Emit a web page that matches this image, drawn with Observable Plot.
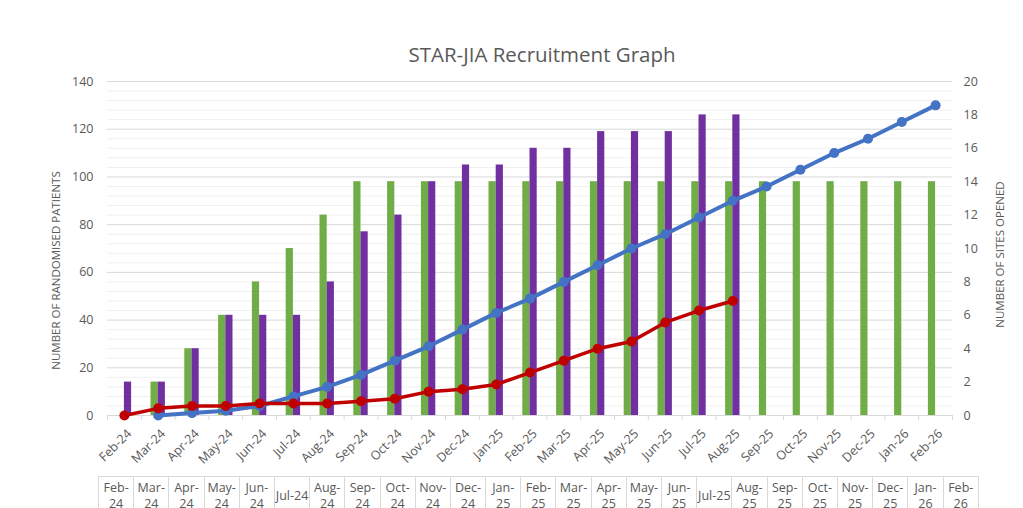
<!DOCTYPE html>
<html><head><meta charset="utf-8">
<script src="https://cdn.jsdelivr.net/npm/d3@7"></script>
<script src="https://cdn.jsdelivr.net/npm/@observablehq/plot@0.6"></script>
<style>
body{margin:0;background:#fff;font-family:"Open Sans",sans-serif;}
#wrap{position:relative;width:1023px;height:508px;overflow:hidden;background:#fff;}
#title{position:absolute;left:342px;width:400px;top:40px;text-align:center;font-size:20.5px;color:#595959;line-height:28px;}
#chart{position:absolute;left:0;top:0;}
#tbl{position:absolute;left:98px;top:476px;border-collapse:collapse;table-layout:fixed;width:881px;}
#tbl td{border:1px solid #d9d9d9;text-align:center;vertical-align:middle;font-size:12.5px;line-height:16px;color:#595959;padding:2px 0 0 0;height:34px;overflow:hidden;white-space:nowrap;}
</style>
</head><body>
<div id="wrap">
  <div id="title">STAR-JIA Recruitment Graph</div>
  <div id="chart"></div>
  <table id="tbl"><tr id="tblrow"></tr></table>
</div>
<script>
const months = ["Feb-24","Mar-24","Apr-24","May-24","Jun-24","Jul-24","Aug-24","Sep-24","Oct-24","Nov-24","Dec-24","Jan-25","Feb-25","Mar-25","Apr-25","May-25","Jun-25","Jul-25","Aug-25","Sep-25","Oct-25","Nov-25","Dec-25","Jan-26","Feb-26"];
// sites (right axis)
const sitesPlanned = [0,2,4,6,8,10,12,14,14,14,14,14,14,14,14,14,14,14,14,14,14,14,14,14,14];
const sitesOpened  = [2,2,4,6,6,6,8,11,12,14,15,15,16,16,17,17,17,18,18,null,null,null,null,null,null];
// patients (left axis)
const targetRecruitment = [null,0,1,2,4,8,12,17,23,29,36,43,49,56,63,70,76,83,90,96,103,110,116,123,130];
const actualRecruitment = [0,3,4,4,5,5,5,6,7,10,11,13,18,23,28,31,39,44,48,null,null,null,null,null,null];
// table header labels (as wrapped in the reference)
const tableLabels = ["Feb-|24","Mar-|24","Apr-|24","May-|24","Jun-|24","Jul-24","Aug-|24","Sep-|24","Oct-|24","Nov-|24","Dec-|24","Jan-|25","Feb-|25","Mar-|25","Apr-|25","May-|25","Jun-|25","Jul-25","Aug-|25","Sep-|25","Oct-|25","Nov-|25","Dec-|25","Jan-|26","Feb-|26"];
const leftTicks = [0,20,40,60,80,100,120,140];
const rightTicks = [0,2,4,6,8,10,12,14,16,18,20];

const RATIO = 7; // 20 sites on the right axis == 140 patients on the left axis
const rows = months.map((m,i)=>({
  month:m,
  planned: sitesPlanned[i] == null ? null : sitesPlanned[i]*RATIO,
  opened: sitesOpened[i] == null ? null : sitesOpened[i]*RATIO,
  target: targetRecruitment[i],
  actual: actualRecruitment[i]
}));
const minor = d3.range(0,141,4).filter(v=>v%20!==0);

const W = 1023, ML = 107, MR = 71;
const bw = (W-ML-MR)/months.length;
const barW = 7.2;

const chart = Plot.plot({
  width: W, height: 476,
  marginLeft: ML, marginRight: MR, marginTop: 81, marginBottom: 61,
  style:{fontFamily:"'Open Sans',sans-serif", fontSize:"12px", color:"#595959", background:"transparent"},
  x:{type:"band", domain: months, padding:0, round:false, label:null},
  y:{domain:[0,140], label:null},
  marks:[
    Plot.ruleY(minor, {stroke:"#f0f0f0", strokeWidth:1}),
    Plot.ruleY(leftTicks, {stroke:"#d9d9d9", strokeWidth:1}),
    Plot.barY(rows.filter(d=>d.planned!=null && d.planned>0), {x:"month", y:"planned", fill:"#70ad47", insetLeft: bw/2-barW, insetRight: bw/2}),
    Plot.barY(rows.filter(d=>d.opened!=null), {x:"month", y:"opened", fill:"#7030a0", insetLeft: bw/2, insetRight: bw/2-barW}),
    Plot.axisX({tickSize:5, stroke:"#d9d9d9", tickFormat:()=>"", dx:-bw/2}),
    Plot.axisX({ticks:[months[months.length-1]], tickSize:5, stroke:"#d9d9d9", tickFormat:()=>"", dx:bw/2}),
    Plot.axisX({tickSize:0, tickRotate:-45, tickPadding:16, fill:"#595959", fontSize:12.5, dx:5}),
    Plot.axisY({ticks:leftTicks, tickSize:0, tickPadding:14, fill:"#595959", fontSize:12.5, label:null}),
    Plot.axisY({anchor:"right", ticks:rightTicks.map(v=>v*RATIO), tickFormat:d=>d/RATIO, tickSize:0, tickPadding:11, fill:"#595959", fontSize:12.5, label:null}),
    Plot.line(rows, {x:"month", y:"target", stroke:"#4472c4", strokeWidth:4, defined:d=>d.target!=null}),
    Plot.dot(rows.filter(d=>d.target!=null), {x:"month", y:"target", fill:"#4472c4", r:5}),
    Plot.line(rows, {x:"month", y:"actual", stroke:"#c00000", strokeWidth:3.5, defined:d=>d.actual!=null}),
    Plot.dot(rows.filter(d=>d.actual!=null), {x:"month", y:"actual", fill:"#c00000", r:5}),
    Plot.text(["NUMBER OF RANDOMISED PATIENTS"], {frameAnchor:"left", textAnchor:"middle", rotate:-90, dx:-51, dy:22, fill:"#595959", fontSize:11.5}),
    Plot.text(["NUMBER OF SITES OPENED"], {frameAnchor:"right", textAnchor:"middle", rotate:-90, dx:48, dy:6, fill:"#595959", fontSize:11.5})
  ]
});
document.getElementById("chart").appendChild(chart);

const tr = document.getElementById("tblrow");
tableLabels.forEach(t=>{
  const td = document.createElement("td");
  td.innerHTML = t.split("|").join("<br>");
  tr.appendChild(td);
});
</script>
</body></html>
